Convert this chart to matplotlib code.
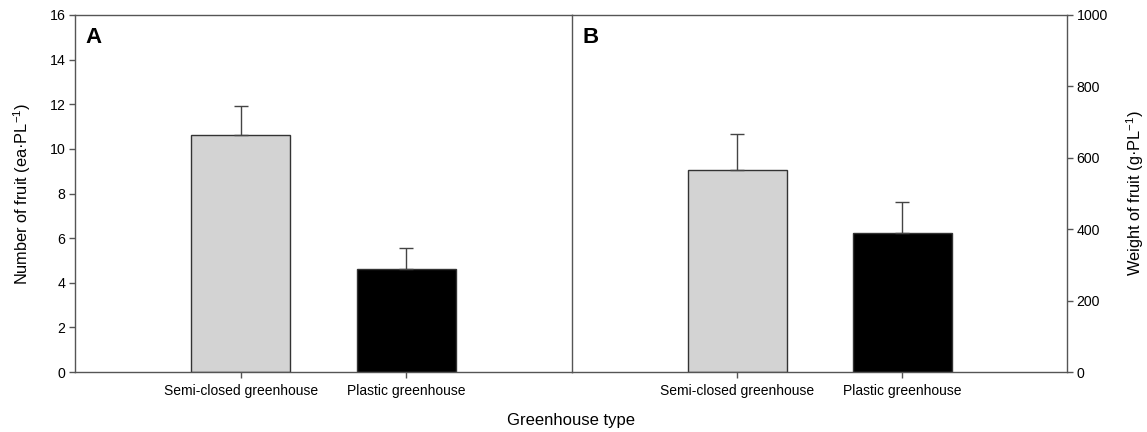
import matplotlib
matplotlib.use("Agg")
import matplotlib.pyplot as plt

plt.rcParams['font.family'] = ['Liberation Sans', 'DejaVu Sans']
plt.rcParams['mathtext.fontset'] = 'custom'
plt.rcParams['mathtext.rm'] = 'Liberation Sans'

categories = ["Semi-closed greenhouse", "Plastic greenhouse"]
fruit_number = [10.6, 4.62]
fruit_number_err = [1.3, 0.93]
fruit_weight = [566, 390]
fruit_weight_err = [100, 85]
bar_colors = ["#d3d3d3", "#000000"]

fig = plt.figure(figsize=(11.47, 4.32), dpi=100)
L, R, B, T = 75/1147, 1067/1147, 1-372/432, 1-15/432
mid = 572/1147
axA = fig.add_axes([L, B, mid-L, T-B])
axB = fig.add_axes([mid, B, R-mid, T-B])

spine_col = "#555555"
pos = [1, 2]
for ax, vals, errs, lab in [(axA, fruit_number, fruit_number_err, "A"),
                            (axB, fruit_weight, fruit_weight_err, "B")]:
    ax.bar(pos, vals, width=0.6, color=bar_colors, edgecolor="#333333", linewidth=1.0, zorder=2)
    ax.errorbar(pos, vals, yerr=[[0, 0], errs], fmt='none', ecolor="#444444",
                elinewidth=1.0, capsize=5, capthick=1.0, zorder=3)
    ax.set_xlim(0, 3)
    ax.set_xticks(pos)
    ax.set_xticklabels(categories, fontsize=10)
    for s in ax.spines.values():
        s.set_color(spine_col)
        s.set_linewidth(1.0)
    ax.tick_params(axis='x', length=4, width=1, color=spine_col, pad=5)
    ax.tick_params(axis='y', length=4, width=1, color=spine_col, labelsize=10.2, pad=3)
    ax.text(0.022, 0.965, lab, transform=ax.transAxes, fontsize=16, fontweight='bold',
            va='top', ha='left')

axA.set_ylim(0, 16)
axA.set_yticks(range(0, 17, 2))
axA.set_ylabel(r"Number of fruit (ea·PL$^{\mathregular{-1}}$)", fontsize=11.8, labelpad=12)
axA.spines['right'].set_visible(False)

axB.set_ylim(0, 1000)
axB.set_yticks(range(0, 1001, 200))
axB.yaxis.tick_right()
axB.yaxis.set_label_position('right')
axB.set_ylabel(r"Weight of fruit (g·PL$^{\mathregular{-1}}$)", fontsize=11.8, labelpad=12)

fig.text((L+R)/2, 0.027, "Greenhouse type", ha='center', va='center', fontsize=12)

fig.savefig("out.png", dpi=100)
